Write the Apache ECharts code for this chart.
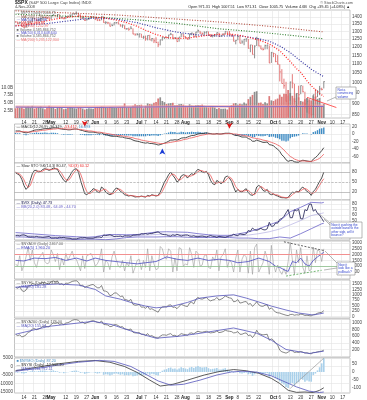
<!DOCTYPE html>
<html><head><meta charset="utf-8">
<script src="https://cdn.jsdelivr.net/npm/echarts@6/dist/echarts.min.js"></script>
<style>html,body{margin:0;padding:0;background:#fff}#c{width:367px;height:400px}</style>
</head><body><div id="c"></div><script>
// ---------- categories (trading days) ----------
const aprDays=[8,9,10,11,14,15,16,17,18,21,22,23,24,25,28,29,30];
const mayDays=[1,2,5,6,7,8,9,12,13,14,15,16,19,20,21,22,23,27,28,29,30];
const junDays=[2,3,4,5,6,9,10,11,12,13,16,17,18,19,20,23,24,25,26,27,30];
const julDays=[1,2,3,7,8,9,10,11,14,15,16,17,18,21,22,23,24,25,28,29,30,31];
const augDays=[1,4,5,6,7,8,11,12,13,14,15,18,19,20,21,22,25,26,27,28,29];
const sepDays=[2,3,4,5,8,9,10,11,12,15,16,17,18,19,22,23,24,25,26,29,30];
const octDays=[1,2,3,6,7,8,9,10,13,14,15,16,17,20,21,22,23,24,27,28,29,30,31];
const novDays=[3,4,5,6,7,10,11,12,13,14,17,18,19,20];
const tickIdx=[4,9,14,17,24,29,34,38,43,48,53,59,62,67,72,77,81,87,92,97,102,106,111,116,123,126,131,136,141,146,151,156];
const tickText=['14','21','28','May','12','19','27','Jun','9','16','23','Jul','7','14','21','28','Aug','11','18','25','Sep','8','15','22','Oct','6','13','20','27','Nov','10','17'];
// ---------- price panel ----------
const close=[1365.5,1354.5,1360.6,1332.8,1328.3,1334.4,1364.7,1365.6,1390.3,1388.2,1375.9,1379.9,1388.8,1397.8,1396.4,1390.9,1385.6,
1409.3,1413.9,1407.5,1418.3,1392.6,1397.7,1388.3,1403.6,1403.0,1408.7,1423.6,1425.4,1426.6,1413.4,1390.7,1394.4,1375.9,1385.4,1390.8,1398.3,1400.4,
1385.7,1377.7,1377.2,1404.1,1360.7,1361.8,1358.4,1335.5,1339.9,1360.0,1361.0,1350.9,1337.8,1342.8,1317.9,1318.0,1314.3,1321.9,1283.2,1278.4,1280.0,
1284.9,1261.5,1262.9,1252.3,1273.7,1244.7,1253.4,1239.5,1228.3,1214.9,1245.4,1260.3,1260.7,1260.0,1277.0,1282.2,1252.5,1257.8,1234.4,1263.2,1284.3,1267.4,
1260.3,1249.0,1284.9,1289.2,1266.1,1296.3,1305.3,1289.6,1285.8,1292.9,1298.2,1278.6,1266.7,1274.5,1277.7,1292.2,1266.8,1271.5,1281.7,1300.7,1282.8,
1277.6,1274.9,1236.8,1242.3,1267.8,1224.5,1232.0,1249.1,1251.7,1192.7,1213.6,1156.4,1206.5,1255.1,1207.1,1188.2,1185.9,1209.2,1213.3,1106.4,1166.4,
1161.1,1114.3,1099.2,1056.9,996.2,984.9,909.9,899.2,1003.4,998.0,907.8,946.4,940.6,985.4,955.1,896.8,908.1,876.8,848.9,940.5,930.1,954.1,968.8,
966.3,1005.75];
const high=[1370,1368,1367,1359,1335,1337,1365,1368,1395,1390,1388,1387,1396,1400,1402,1397,1404,
1410,1422,1415,1421,1419,1404,1395,1404,1410,1420,1424,1426,1440,1424,1419,1401,1394,1388,1392,1405,1404,
1400,1396,1386,1405,1404,1370,1366,1361,1353,1361,1364,1367,1351,1348,1342,1323,1326,1336,1321,1288,1290,
1285,1285,1272,1273,1274,1278,1257,1255,1262,1234,1246,1263,1262,1267,1278,1291,1283,1263,1261,1264,1285,1284,
1270,1260,1285,1292,1289,1297,1313,1304,1294,1301,1300,1300,1282,1277,1280,1293,1292,1275,1287,1301,1301,
1303,1281,1275,1244,1274,1270,1243,1250,1255,1251,1214,1214,1211,1265,1255,1211,1197,1215,1215,1210,1171,
1167,1161,1153,1099,1072,1021,1005,936,1006,1045,995,948,985,986,985,955,922,896,893,941,969,963,984,
975,1007.5];
const low=[1360,1349,1350,1331,1324,1324,1334,1357,1365,1380,1370,1369,1366,1378,1394,1386,1384,
1385,1406,1404,1397,1391,1390,1384,1386,1396,1403,1401,1414,1416,1407,1388,1387,1372,1374,1379,1390,1396,
1378,1371,1371,1377,1360,1350,1351,1334,1336,1341,1352,1350,1333,1325,1317,1312,1305,1315,1282,1273,1274,
1260,1261,1252,1240,1242,1244,1236,1225,1226,1200,1211,1240,1251,1255,1251,1276,1252,1251,1234,1234,1263,1265,
1254,1247,1249,1275,1264,1262,1292,1285,1275,1276,1285,1274,1264,1261,1264,1277,1266,1264,1271,1282,1282,
1273,1266,1236,1217,1243,1224,1221,1212,1233,1192,1169,1156,1133,1207,1205,1188,1180,1186,1187,1106,1107,
1140,1111,1098,1007,996,970,909,840,912,972,907,866,918,943,952,877,858,853,846,848,922,929,938,
962,971.3];
const volume=[3.2,3.4,3.3,3.5,3.0,3.6,3.8,3.5,4.0,3.1,3.3,3.6,3.8,3.2,2.9,3.4,4.0,
3.7,3.6,3.0,3.4,3.5,3.3,2.9,3.0,3.3,3.5,3.4,3.2,3.1,3.6,3.5,3.1,2.8,3.0,3.2,3.1,3.0,
3.3,3.5,3.6,3.8,3.7,3.4,3.3,3.6,3.5,3.4,3.3,3.4,3.6,3.7,4.8,3.4,3.5,3.6,4.0,4.5,4.2,
4.3,4.4,3.2,4.0,4.8,4.6,4.5,5.0,5.3,6.4,6.8,5.6,5.2,4.6,4.8,4.9,5.0,4.2,4.3,4.5,4.6,4.4,
4.0,3.8,4.5,4.1,4.0,4.2,4.3,4.2,4.4,4.0,3.6,3.5,3.7,3.8,3.5,3.0,3.3,3.0,3.0,3.1,2.8,
3.6,4.2,4.8,4.9,4.4,4.7,4.5,5.1,4.7,6.2,7.0,7.6,8.6,8.8,5.0,5.1,4.6,5.2,4.8,7.2,5.8,
5.6,6.1,6.4,7.7,7.0,8.0,7.9,9.2,8.2,7.3,6.5,8.0,6.8,5.6,5.4,6.2,6.6,6.2,5.8,7.4,7.0,6.3,6.6,
4.0,4.6];
const ma200=[[0,1445],[24,1430],[48,1415],[72,1390],[97,1365],[121,1335],[147,1297]];
const ma150=[[0,1420],[14,1412],[29,1403],[43,1395],[58,1380],[77,1355],[97,1318],[111,1302],[126,1282],[141,1261],[147,1252]];
const ma50=[[0,1338],[14,1352],[24,1370],[34,1388],[39,1393],[48,1385],[58,1360],[67,1325],[77,1295],[87,1277],[97,1270],[107,1272],[116,1252],[121,1237],[126,1207],[131,1167],[136,1117],[141,1072],[147,1031]];
const ma20=[[0,1338],[4,1345],[9,1355],[14,1370],[19,1386],[24,1396],[29,1405],[34,1404],[38,1399],[43,1392],[48,1378],[53,1360],[58,1335],[62,1308],[67,1280],[72,1261],[77,1254],[82,1257],[87,1266],[92,1276],[97,1281],[102,1283],[106,1277],[111,1262],[116,1244],[121,1220],[124,1195],[126,1178],[129,1140],[131,1115],[134,1075],[136,1055],[139,1010],[141,985],[144,955],[147,932]];
const volMA50=[[0,3.6],[30,3.4],[60,3.6],[90,3.8],[120,3.7],[147,3.8]];
const volMA200=[[0,3.7],[40,3.7],[80,3.8],[120,3.9],[147,4.0]];
const priceTrend=[[139,928],[153,881]];
const priceTicks=[850,900,950,1000,1050,1100,1150,1200,1250,1300,1350,1400];
const volTicks=[2.5,5,7.5,10];
// ---------- MACD ----------
const macd=[8,8,8,6,4,3,4,6,8,10, 11,11,12,13,14,14,14,15,16,16, 16,14,13,12,12,11,11,12,13,13,
12,10,9,7,6,5,5,5,4,3, 2,3,0,-2,-3,-5,-6,-6,-6,-7, -8,-8,-10,-11,-12,-13,-16,-18,-19,-20,
-22,-23,-24,-23,-25,-25,-26,-27,-29,-28, -26,-24,-22,-19,-16,-16,-15,-16,-14,-11, -10,-10,-8,-6,-4,-4,-2,0,1,1,
2,3,2,1,0,0,1,0,0,1, 2,2,2,1,-2,-4,-4,-6,-8,-8, -8,-12,-14,-19,-19,-16,-18,-20,-22,-22,
-21,-28,-29,-31,-36,-40,-46,-55,-60,-68, -72,-70,-70,-73,-74,-74,-71,-69,-70,-71, -72,-73,-66,-62,-57,-50,-44,-36];
const signal=[5,6,6,6,6,6,5,5,6,7, 7,8,9,10,10,11,12,12,13,13, 14,14,14,14,13,13,13,13,13,13,
12,12,11,10,9,8,8,7,6,5, 5,4,3,2,1,0,-1,-2,-3,-4, -4,-5,-6,-7,-8,-9,-10,-12,-13,-14,
-16,-17,-18,-19,-20,-21,-22,-23,-24,-25, -25,-25,-24,-23,-22,-21,-20,-19,-18,-17, -15,-14,-13,-11,-10,-9,-7,-6,-4,-3,
-2,-1,0,0,0,0,0,0,0,0, 1,1,1,1,0,0,-1,-2,-3,-4, -5,-6,-8,-10,-11,-12,-13,-14,-16,-17,
-18,-20,-22,-24,-26,-29,-32,-37,-42,-48, -54,-59,-62,-66,-68,-70,-71,-71,-71,-72, -72,-72,-71,-69,-67,-64,-59,-53];
const macdTicks=[20,0,-20,-40,-60];
// ---------- Slow stochastic ----------
const stoK=[78,74,70,58,40,28,35,55,75,85, 85,80,82,88,90,88,85,88,92,90, 88,75,65,55,50,60,70,82,88,90,
80,55,35,15,12,18,22,30,28,20, 18,35,30,20,15,12,15,25,32,30, 22,18,12,10,8,10,8,5,6,6,
8,6,5,10,8,12,10,8,10,20, 35,50,60,72,80,70,62,50,55,68, 72,70,62,70,75,72,82,88,85,80,
78,82,72,55,45,42,55,50,45,50, 65,68,62,52,35,20,28,22,20,26, 30,18,12,10,15,35,40,35,25,22,
28,15,12,14,10,8,5,3,3,2, 4,12,20,18,22,20,30,35,28,22, 18,10,22,28,40,52,62,80];
const stoD=[80,77,74,67,57,42,34,39,55,72, 82,83,82,83,87,89,88,87,88,90, 90,84,76,65,57,55,60,71,80,87,
86,75,57,35,21,15,17,23,27,26, 22,24,28,28,22,16,14,17,24,29, 28,23,17,13,10,9,9,8,6,6,
7,7,6,7,8,10,10,10,9,13, 22,35,48,61,71,74,71,61,56,58, 65,70,68,67,69,72,76,81,85,84,
81,80,77,70,57,47,47,49,50,48, 53,61,65,61,50,36,28,23,23,23, 25,25,20,13,12,20,30,37,33,27,
25,22,18,14,12,11,8,5,4,3, 3,6,12,17,20,20,24,28,31,28, 23,17,17,20,30,40,51,60];
const stoTicks=[20,50,80];
// ---------- VIX + Bollinger ----------
const vix=[22.4,22.8,22.0,23.5,23.8,22.4,20.4,20.2,20.4,20.0,21.0,20.0,19.8,19.3,19.7,20.2,20.8,
18.2,18.2,18.5,18.2,19.5,18.9,19.2,18.2,17.8,17.6,16.3,16.5,16.3,17.6,18.6,18.4,19.0,18.0,17.9,17.8,17.8,
19.0,19.9,20.2,19.0,23.6,22.5,23.2,24.0,22.7,20.8,21.4,21.2,21.7,20.5,22.2,21.9,21.9,21.3,23.4,23.4,23.9,
23.8,25.8,25.3,26.2,25.1,26.3,26.2,27.5,28.5,29.4,26.7,24.9,24.3,23.9,22.3,21.6,23.9,22.7,24.6,23.4,21.7,22.9,
23.5,23.5,21.8,21.2,22.1,20.7,20.5,21.2,21.6,20.9,20.0,21.3,22.6,21.3,20.8,19.4,21.2,20.5,19.9,19.4,20.7,
21.9,22.4,24.9,23.1,22.6,25.5,24.8,24.4,25.7,31.7,30.3,36.2,33.1,32.1,33.6,35.7,33.4,32.8,34.7,46.7,39.4,
39.8,45.3,45.1,52.1,53.7,57.5,63.9,69.9,55.0,55.1,69.3,67.6,70.3,53.0,53.1,69.7,67.8,79.1,80.1,67.0,70.0,62.9,59.9,
53.7,47.7];
const bbUp=[[0,28],[4,27],[9,25.5],[14,24],[19,22.5],[24,21.5],[29,20.5],[34,19.5],[38,20.5],[43,24],[48,24.5],[53,24],[58,24.5],[62,26.5],[67,29],[72,29.5],[77,29],[82,28.5],[87,26],[92,24],[97,23],[102,23],[106,25.5],[111,29],[116,35],[121,42],[126,49],[131,66],[136,74],[141,83],[146,82],[147,83]];
const bbMid=[[0,24],[4,23.5],[9,22],[14,21],[19,20],[24,18.8],[29,18],[34,17.8],[38,18.2],[43,19.5],[48,20.5],[53,21.5],[58,22.3],[62,23.3],[67,24.5],[72,25],[77,24.8],[82,24],[87,22.5],[92,21.5],[97,21],[102,21],[106,21.8],[111,23.5],[116,26],[121,29.5],[126,34.5],[131,42],[136,50],[141,59],[146,63],[147,64]];
const bbLow=[[0,20],[4,20],[9,18.5],[14,18],[19,17.5],[24,16],[29,15.5],[34,16],[38,16],[43,15],[48,16.5],[53,19],[58,20],[62,20],[67,20],[72,20.5],[77,20.5],[82,19.5],[87,19],[92,19],[97,19],[102,19],[106,18],[111,18],[116,17],[121,17],[126,20],[131,18],[136,26],[141,35],[146,44],[147,45]];
const vixTicks=[40,50,60,70,80];
// ---------- NYSE advancing issues ----------
const adv=[1200,1000,1900,600,1100,1800,2600,1500,2400,1300, 900,1700,1900,2200,1400,1200,1300,2400,2000,1400,
2100,700,1700,1100,2100,1500,1900,2300,1700,1600, 1100,600,1900,800,1900,2000,2100,1700,1000,1200,
1600,2500,500,1500,1300,700,1800,2300,1600,1000, 900,1500,600,1300,1000,1900,400,900,1500,1600,
700,1500,900,2500,600,1900,1200,700,800,2700, 2500,1800,1600,2500,2300,500,1700,600,2600,2500,
1000,1200,1100,2600,2000,900,2300,2100,1000,1100, 1900,2000,900,800,1800,1500,2400,600,1800,2000,
2500,900,1500,1300,500,1700,2400,500,1600,2000, 1800,400,2300,300,2600,2900,500,900,1300,2300,
1700,300,2800,1200,500,1100,600,300,800,300, 1400,3050,1600,300,2400,1300,2600,900,400,1900,
600,700,2650,1300,2400,2300,1400,2500];
const advEma=[[0,1500],[4,1450],[9,1700],[14,1650],[19,1750],[24,1500],[29,1700],[34,1450],[38,1700],[43,1500],[48,1400],[53,1300],[58,1200],[62,1300],[67,1400],[72,1800],[77,1600],[82,1500],[87,1700],[92,1500],[97,1600],[102,1500],[106,1300],[111,1400],[116,1700],[121,1400],[124,1000],[126,900],[128,700],[130,550],[132,1400],[134,1300],[136,1700],[138,1200],[140,1000],[142,1500],[144,1800],[147,2200]];
const advTopTrend=[[128,3100],[147,2350]];
const advBotTrend=[[129,150],[146,650]];
const advTicks=[500,1000,1500,2000,2500,3000];
// ---------- panel 6 ----------
const p6=[1350,1300,1380,1200,1150,1220,1400,1420,1520,1500, 1440,1480,1530,1580,1560,1520,1500,1600,1640,1600,
1640,1480,1520,1450,1540,1530,1570,1620,1640,1650, 1580,1420,1450,1330,1390,1420,1460,1480,1400,1330,
1320,1430,1180,1170,1120,960,990,1080,1090,1010, 920,950,780,770,720,790,560,520,530,560,
430,440,380,470,330,360,300,250,200,360, 440,450,440,520,540,420,440,360,470,560,
520,480,460,620,660,580, 800,880,820,800,840,880,780,720,760,780,880,760,800,850,950,900,860,840,680,700,
780,620,640,680,690,560,600,470,560,680,540,480,470,520,540, 330,400,300,200,170,160,120,90,60,
40,90,100,60,80,70,110,90,50,60, 40,30,90,100,150,180,190,270];
const p6Ma=[[0,1350],[10,1450],[20,1500],[30,1450],[38,1250],[43,950],[50,800],[56,620],[62,480],[67,400],[75,480],[82,650],[88,850],[96,950],[104,1000],[110,850],[116,670],[122,480],[129,300],[135,160],[142,70],[147,160]];
const p6Ticks=[0,250,500,750,1000,1250,1500];
// ---------- panel 7 ----------
const p7=[660,620,640,580,600,640,720,740,820,830, 800,820,850,900,910,890,880,960,1000,990,
1010,960,980,950,1000,1010,1040,1080,1100,1100, 1080,1020,1030,980,1010,1030,1060,1070,1050,1020,
1010,1060,960,950,940,890,900,950,950,920, 880,890,820,810,800,820,720,700,700,710,
660,660,630,680,600,620,580,560,540,600, 640,640,630,660,680,620,630,590,630,680,
660,650,630,690,700,670,720,750,730,720, 740,750,720,700,710,720,760,710,720,740,
780,760,750,740,700,710,740,660,660,690, 700,620,640,560,640,780,680,660,640,650,
660,480,520,480,400,330,180,130,110,90, 120,170,160,110,120,110,140,120,90,100, 80,70,110,110,130,140,150,180];
const p7Ma=[[0,660],[16,900],[37,1050],[46,950],[56,740],[67,540],[78,600],[88,690],[104,850],[115,690],[122,480],[129,200],[140,80],[147,150]];
const p7Ticks=[200,400,600,800,1000];
// ---------- panel 8 ----------
const osc=[-3,-5,-2,-8,-10,-6,2,4,8,5, 3,6,8,10,7,5,3,8,10,6, 4,-5,-2,-8,-4,-2,2,6,8,9,
4,-6,-3,-12,-8,-5,-2,-1,-6,-10, -8,-2,-18,-15,-16,-22,-18,-12,-10,-14, -18,-15,-22,-20,-22,-18,-28,-26,-22,-18,
-22,-18,-20,-10,-18,-12,-15,-20,-22,-5, 8,15,18,25,28,20,22,15,22,30, 25,22,18,28,32,26,34,38,32,28,
30,32,24,18,20,22,26,15,16,20, 24,15,10,6,-5,-2,6,-8,-10,-6, -4,-15,-12,-25,-15,2,-8,-12,-15,-10,
-8,-30,-22,-28,-40,-48,-60,-72,-80,-95, -102,-75,-70,-88,-72,-65,-45,-50,-62,-55, -60,-62,-20,-10,10,30,55,88];
const sumLine=[[0,-2500],[10,-500],[20,1500],[30,3000],[38,3500],[45,2500],[52,0],[58,-3500],[64,-8000],[69,-11500],[75,-10500],[82,-8000],[90,-5000],[97,-3000],[104,-1800],[110,-2500],[116,-4000],[122,-7000],[126,-10000],[130,-14000],[134,-15200],[138,-15000],[142,-15300],[145,-14000],[147,-12500]];
const sumMa=[[0,-2800],[10,-1200],[20,800],[30,2500],[40,3600],[47,3000],[55,0],[62,-4500],[68,-8500],[74,-11000],[80,-10500],[88,-8000],[96,-5000],[103,-3200],[108,-2800],[115,-3300],[122,-5500],[128,-8800],[134,-12000],[140,-14500],[145,-15300],[147,-15000]];
const oscTrend=[[131,-105],[147,88]];
const sumTicks=[5000,0,-5000,-10000,-15000];
const oscTicks=[50,0,-50,-100];

// ---------- build ----------
const dates=[];
[['Apr',aprDays],['May',mayDays],['Jun',junDays],['Jul',julDays],['Aug',augDays],['Sep',sepDays],['Oct',octDays],['Nov',novDays]]
  .forEach(([m,ds])=>ds.forEach(d=>dates.push(m+' '+d)));
const tickMap={}; tickIdx.forEach((k,j)=>tickMap[k]=tickText[j]);
const MONTHS=['May','Jun','Jul','Aug','Sep','Oct','Nov'];
const FF="'Liberation Sans', Arial, sans-serif";
const GRID='#e3e3e3';
const isDown=i=> i===0 || close[i]<close[i-1];

const panels=[[10,108],[124,39],[163,37],[200,40],[241,38],[280,38],[319,38],[358,35]];
const grid=panels.map(([t,h])=>({left:14.5,right:17,top:t,height:h,show:true,borderColor:'#9a9a9a',borderWidth:0.6,backgroundColor:'#fff',outerBoundsMode:'none',containLabel:false}));
const xAxis=panels.map((p,i)=>({type:'category',gridIndex:i,data:dates,boundaryGap:true,
  axisLine:{show:false},axisTick:{show:false},
  axisLabel:{show:(i===0||i===7),interval:k=>tickMap[k]!==undefined,fontSize:4.5,margin:2,color:'#333',fontFamily:FF,
    formatter:(v,k)=>{const t=tickMap[k]||'';return MONTHS.includes(t)?'{m|'+t+'}':t;},
    rich:{m:{fontWeight:'bold',fontSize:4.5,color:'#222',fontFamily:FF}}},
  splitLine:{show:true,interval:k=>tickMap[k]!==undefined,lineStyle:{color:GRID,width:0.6}}}));
function yAx(g,pos,min,max,ticks,opt){
  return Object.assign({type:'value',gridIndex:g,position:pos,min:min,max:max,scale:true,
    axisLine:{show:false},axisTick:{show:false,customValues:ticks},
    axisLabel:{customValues:ticks,fontSize:4.5,color:'#444',margin:2,fontFamily:FF,formatter:v=>String(v)},
    splitLine:{show:true,lineStyle:{color:GRID,width:0.6}}},opt||{});
}
const yAxis=[
  yAx(0,'right',835,1451,priceTicks,{type:'log',logBase:10}),
  yAx(0,'left',0,35.5,volTicks,{splitLine:{show:false},axisLabel:{customValues:volTicks,fontSize:4.5,color:'#444',margin:1.5,fontFamily:FF,formatter:v=>v.toFixed(1)+'B'}}),
  yAx(1,'right',-76.3,26.3,macdTicks),
  yAx(2,'right',-3.9,107.2,stoTicks,{splitLine:{show:false}}),
  yAx(3,'right',14.5,87.3,vixTicks),
  yAx(4,'right',-103,3172,advTicks),
  yAx(5,'right',-69,1685,p6Ticks),
  yAx(6,'right',-27,1121,p7Ticks),
  yAx(7,'left',-15588,5000,sumTicks,{axisLabel:{customValues:sumTicks,fontSize:4.5,color:'#444',margin:1.5,fontFamily:FF,formatter:v=>String(v)}}),
  yAx(7,'right',-134,89,oscTicks,{splitLine:{show:false}})
];
function ln(x,y,data,color,w,extra){return Object.assign({type:'line',xAxisIndex:x,yAxisIndex:y,data:data,symbol:'none',showSymbol:false,
  lineStyle:{color:color,width:w},z:3},extra||{});}
function hl(v,color,type,w){return {yAxis:v,lineStyle:{color:color,type:type||'solid',width:w||0.6}};}
function ml(list){return {silent:true,symbol:'none',label:{show:false},animation:false,data:list};}
const DOT=[1,1.6];
const series=[
  // volume
  {type:'bar',xAxisIndex:0,yAxisIndex:1,barWidth:1.7,z:1,
   data:volume.map((v,i)=>({value:v,itemStyle:{color:isDown(i)?'#dc7a7a':'#8e8e8e'}}))},
  ln(0,1,volMA200,'#f4a3a3',2.5,{z:2,lineStyle:{color:'#f4a3a3',width:2.5,opacity:0.75}}),
  ln(0,1,volMA50,'#6a5acd',0.8,{z:2}),
  // price HLC bars
  {type:'custom',xAxisIndex:0,yAxisIndex:0,z:3,
   data:close.map((c,i)=>[i,high[i],low[i],c]),
   encode:{x:0,y:[1,2,3]},
   renderItem:(params,api)=>{
     const i=params.dataIndex;
     const h=api.coord([api.value(0),api.value(1)]),l=api.coord([api.value(0),api.value(2)]),c=api.coord([api.value(0),api.value(3)]);
     const col=isDown(i)?'#e06a6a':'#808080';
     return {type:'group',children:[
       {type:'line',shape:{x1:h[0],y1:h[1],x2:l[0],y2:l[1]},style:{stroke:col,lineWidth:0.9}},
       {type:'line',shape:{x1:c[0],y1:c[1],x2:c[0]+1.1,y2:c[1]},style:{stroke:col,lineWidth:0.9}}]};
   }},
  ln(0,0,ma200,'#b24a3c',1.1,{lineStyle:{color:'#b24a3c',width:1.1,type:DOT}}),
  ln(0,0,ma150,'#2e7d2e',1.1,{lineStyle:{color:'#2e7d2e',width:1.1,type:DOT}}),
  ln(0,0,ma50,'#25259a',1.1,{lineStyle:{color:'#25259a',width:1.1,type:DOT}}),
  ln(0,0,ma20,'#ff2020',1.2,{lineStyle:{color:'#ff2020',width:1.2,type:DOT}}),
  ln(0,0,priceTrend,'#ff3333',0.8),
  // MACD
  {type:'bar',xAxisIndex:1,yAxisIndex:2,barWidth:1.4,z:1,data:macd.map((v,i)=>v-signal[i]),itemStyle:{color:'#3f8cc4'}},
  ln(1,2,macd,'#222',0.8,{markPoint:{silent:true,animation:false,label:{show:false},data:[
    {coord:[dates[33],19],symbol:'arrow',symbolSize:[4.5,6],symbolRotate:180,itemStyle:{color:'#e01a1a'}},
    {coord:[dates[102],14],symbol:'arrow',symbolSize:[4.5,6],symbolRotate:180,itemStyle:{color:'#e01a1a'}},
    {coord:[dates[70],-38],symbol:'arrow',symbolSize:[4.5,6],itemStyle:{color:'#1a3cd6'}},
    {coord:[dates[142],-80],symbol:'arrow',symbolSize:[4.5,6],itemStyle:{color:'#1a3cd6'}}]}}),
  ln(1,2,signal,'#ee5a5a',0.8),
  // STO
  ln(2,3,stoK,'#222',0.8,{markLine:ml([hl(80,'#9a9a9a'),hl(20,'#9a9a9a'),hl(50,'#9a9a9a','dashed')])}),
  ln(2,3,stoD,'#ee5a5a',0.8),
  // VIX
  ln(3,4,bbUp,'#6b63c9',0.8),
  ln(3,4,bbMid,'#a7a2dd',0.6),
  ln(3,4,bbLow,'#6b63c9',0.8),
  ln(3,4,vix,'#1c1c50',0.8),
  // advancing issues
  ln(4,5,adv,'#9a9a9a',0.6,{markLine:ml([hl(2000,'#f29090','solid',1),hl(1000,'#8cbf8c','solid',0.8)])}),
  ln(4,5,advEma,'#4a4ac0',0.8),
  ln(4,5,advTopTrend,'#222',0.7,{lineStyle:{color:'#222',width:0.7,type:[2,1.5]}}),
  ln(4,5,advBotTrend,'#3a9a3a',0.7,{lineStyle:{color:'#3a9a3a',width:0.7,type:[2,1.5]}}),
  // panel 6
  ln(5,6,p6,'#555',0.7),
  ln(5,6,p6Ma,'#5555bb',0.8),
  // panel 7
  ln(6,7,p7,'#555',0.7),
  ln(6,7,p7Ma,'#5555bb',0.8),
  // panel 8
  {type:'bar',xAxisIndex:7,yAxisIndex:9,barWidth:1.6,z:1,data:osc,itemStyle:{color:'#a9d0ea'}},
  ln(7,8,sumLine,'#333',0.8),
  ln(7,8,sumMa,'#5555bb',0.8),
  ln(7,9,oscTrend,'#9a9a9a',0.7)
];
function T(x,y,text,fill,size,opt){return {type:'text',x:x,y:y,silent:true,z:80,
  style:Object.assign({text:text,fill:fill,fontSize:size,fontFamily:FF,align:'left',verticalAlign:'top'},opt||{})};}
function box(x,y,w,h){return {type:'rect',silent:true,z:60,shape:{x:x,y:y,width:w,height:h},style:{fill:'#fff',stroke:'#888',lineWidth:0.6}};}
function seg(x1,y1,x2,y2){return {type:'line',silent:true,z:59,shape:{x1:x1,y1:y1,x2:x2,y2:y2},style:{stroke:'#888',lineWidth:0.6}};}
const legend0=[
  ['\u2014 $SPX (Daily) 1005.75','#666'],['\u00b7\u00b7\u00b7 MA(200) 1296.42','#8a5040'],['\u00b7\u00b7\u00b7 MA(50) 1033.38','#3333aa'],
  ['\u00b7\u00b7\u00b7 MA(20) 930.46','#dd3333'],['\u00b7\u00b7\u00b7 MA(150) 1252.97','#ee6666'],['\u25a0 Volume 4,585,866,752','#666'],
  ['\u2014 MA(50) 6,313,648,640','#5555cc'],['\u25a0 Volume 4,585,866,752','#666'],['\u2014 MA(200) 5,235,122,304','#ee7777']];
const graphic=[
  T(15,0.3,'{b|$SPX} (S&P 500 Large Cap Index) INDX','#444',4.2,{rich:{b:{fontWeight:'bold',fontSize:5,fill:'#222',fontFamily:FF}}}),
  T(15,5.3,'4-Nov-2008','#444',3.8),
  T(353,0.5,'\u00a9 StockCharts.com','#555',3.8,{align:'right'}),
  T(350,5,'Open 971.31  High 1007.51  Low 971.31  Close 1005.75  Volume 4.6B  Chg +39.45 (+4.08%) \u25b2','#222',3.8,{align:'right'}),
  ...legend0.map(([t,c],k)=>T(16.5,11.2+k*3.3,t,c,3.6)),
  T(16.5,125.2,'{a|\u2014 MACD(12,26,9) -36.319, }{r|-53.412}{a|, }{c|16.093}','#333',3.8,{rich:{a:{fill:'#333',fontSize:3.8},r:{fill:'#e33',fontSize:3.8},c:{fill:'#3f8cc4',fontSize:3.8}}}),
  T(16.5,164.3,'{a|\u2014 Slow STO %K(14,3) 80.47, }{r|%D(3) 60.12}','#333',3.8,{rich:{a:{fill:'#333',fontSize:3.8},r:{fill:'#e33',fontSize:3.8}}}),
  T(16.5,201.3,'\u2014 $VIX (Daily) 47.73','#1c1c50',3.8),
  T(16.5,204.9,'\u2014 BB(20,2.0) 83.48 - 64.09 - 44.70','#6b63c9',3.8),
  T(16.5,242.3,'\u2014 $NYADV (Daily) 2467.00','#666',3.8),
  T(16.5,245.9,'\u2014 EMA(5) 1,960.20','#4a4ac0',3.8),
  T(16.5,281.3,'\u2014 $NYHL (Daily) 273.00','#555',3.8),
  T(16.5,284.9,'\u2014 MA(20) 181.28','#5555bb',3.8),
  T(16.5,320.3,'\u2014 $NYA200 (Daily) 178.00','#555',3.8),
  T(16.5,323.9,'\u2014 MA(20) 155.54','#5555bb',3.8),
  T(16.5,359.3,'\u25a0 $NYMO (Daily) 87.20','#4a8fc4',3.8),
  T(16.5,362.9,'\u2014 $NYSI (Daily) -12,518.40','#333',3.8),
  T(16.5,366.5,'\u2014 MA(20) -14,972.11','#5555bb',3.8),
  // annotations
  seg(336,97,327,101), box(336,87,20,12),
  T(337.5,88,'Not a\nconvincing\nvolume','#3344cc',3.3,{lineHeight:3.6}),
  seg(318,213,330,223), seg(324,219,330,225), box(330,222,32,16),
  T(331.3,223,'Now it pushing the\noutside band to the\nother side, will it\nbounce?','#3344cc',3.2,{lineHeight:3.6}),
  seg(325,251,337,263), seg(324,270,337,268), box(337,262,18,13),
  T(338.3,263,'Now it\nlook like a\npullback?','#3344cc',3.2,{lineHeight:3.6})
];
const chart=echarts.init(document.getElementById('c'),null,{renderer:'canvas'});
chart.setOption({animation:false,backgroundColor:'#fff',textStyle:{fontFamily:FF},
  grid:grid,xAxis:xAxis,yAxis:yAxis,series:series,graphic:graphic});
</script></body></html>
